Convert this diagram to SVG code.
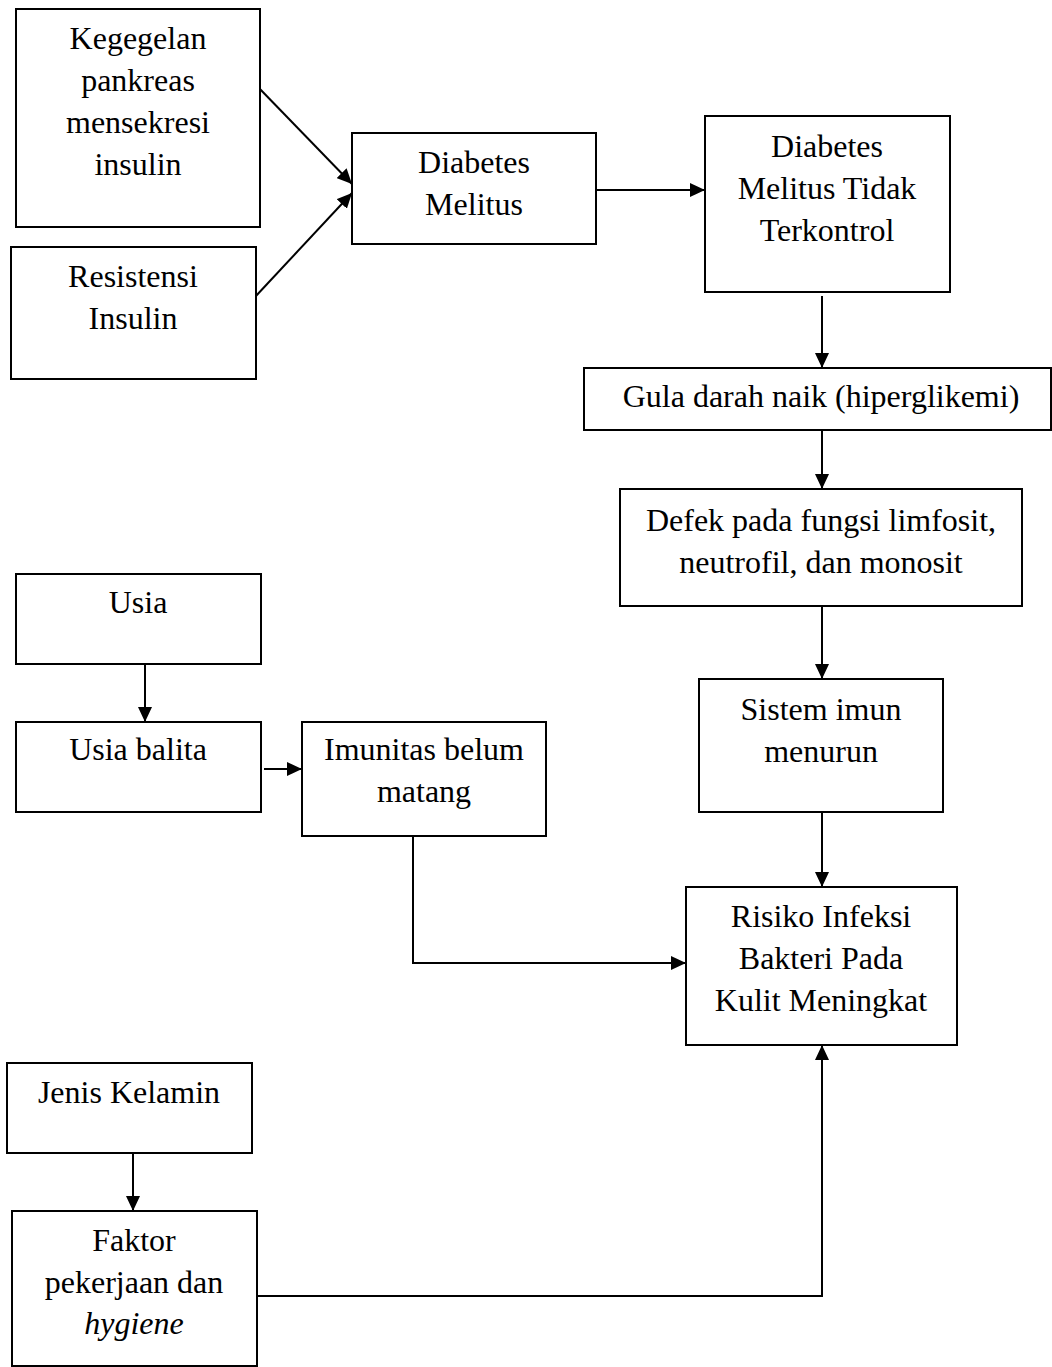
<svg xmlns="http://www.w3.org/2000/svg" width="1052" height="1367" viewBox="0 0 1052 1367">
<style>
.box{fill:#fff;stroke:#000;stroke-width:2}
.t{font-family:"Liberation Serif","Times New Roman",serif;font-size:32px;fill:#000;text-anchor:middle}
.c{fill:none;stroke:#000;stroke-width:2}
</style>
<defs>
<marker id="ah" markerUnits="userSpaceOnUse" markerWidth="16" markerHeight="14" refX="15" refY="7" orient="auto">
<path d="M0,0 L15,7 L0,14 z" fill="#000"/>
</marker>
</defs>
<rect width="1052" height="1367" fill="#fff"/>
<g id="connectors">
<line class="c" x1="258" y1="87" x2="352" y2="184" marker-end="url(#ah)"/>
<line class="c" x1="255" y1="297" x2="352" y2="193" marker-end="url(#ah)"/>
<line class="c" x1="596" y1="190" x2="705" y2="190" marker-end="url(#ah)"/>
<line class="c" x1="822" y1="296" x2="822" y2="368" marker-end="url(#ah)"/>
<line class="c" x1="822" y1="430" x2="822" y2="489" marker-end="url(#ah)"/>
<line class="c" x1="822" y1="606" x2="822" y2="679" marker-end="url(#ah)"/>
<line class="c" x1="822" y1="812" x2="822" y2="887" marker-end="url(#ah)"/>
<line class="c" x1="145" y1="664" x2="145" y2="722" marker-end="url(#ah)"/>
<line class="c" x1="264" y1="769" x2="302" y2="769" marker-end="url(#ah)"/>
<polyline class="c" points="413,836 413,963 686,963" marker-end="url(#ah)"/>
<line class="c" x1="133" y1="1153" x2="133" y2="1211" marker-end="url(#ah)"/>
<polyline class="c" points="257,1296 822,1296 822,1045" marker-end="url(#ah)"/>
</g>
<g id="n-kegegelan"><rect class="box" x="16" y="9" width="244" height="218"/>
<text class="t" x="138" y="49">Kegegelan</text><text class="t" x="138" y="91">pankreas</text><text class="t" x="138" y="133">mensekresi</text><text class="t" x="138" y="175">insulin</text></g>
<g id="n-resistensi"><rect class="box" x="11" y="247" width="245" height="132"/>
<text class="t" x="133" y="287">Resistensi</text><text class="t" x="133" y="329">Insulin</text></g>
<g id="n-dm"><rect class="box" x="352" y="133" width="244" height="111"/>
<text class="t" x="474" y="173">Diabetes</text><text class="t" x="474" y="215">Melitus</text></g>
<g id="n-dmtt"><rect class="box" x="705" y="116" width="245" height="176"/>
<text class="t" x="827" y="157">Diabetes</text><text class="t" x="827" y="199">Melitus Tidak</text><text class="t" x="827" y="241">Terkontrol</text></g>
<g id="n-gula"><rect class="box" x="584" y="368" width="467" height="62"/>
<text class="t" x="821" y="407">Gula darah naik (hiperglikemi)</text></g>
<g id="n-defek"><rect class="box" x="620" y="489" width="402" height="117"/>
<text class="t" x="821" y="531">Defek pada fungsi limfosit,</text><text class="t" x="821" y="573">neutrofil, dan monosit</text></g>
<g id="n-imun"><rect class="box" x="699" y="679" width="244" height="133"/>
<text class="t" x="821" y="720">Sistem imun</text><text class="t" x="821" y="762">menurun</text></g>
<g id="n-risiko"><rect class="box" x="686" y="887" width="271" height="158"/>
<text class="t" x="821" y="927">Risiko Infeksi</text><text class="t" x="821" y="969">Bakteri Pada</text><text class="t" x="821" y="1011">Kulit Meningkat</text></g>
<g id="n-usia"><rect class="box" x="16" y="574" width="245" height="90"/>
<text class="t" x="138" y="613">Usia</text></g>
<g id="n-balita"><rect class="box" x="16" y="722" width="245" height="90"/>
<text class="t" x="138" y="760">Usia balita</text></g>
<g id="n-imunitas"><rect class="box" x="302" y="722" width="244" height="114"/>
<text class="t" x="424" y="760">Imunitas belum</text><text class="t" x="424" y="802">matang</text></g>
<g id="n-jenis"><rect class="box" x="7" y="1063" width="245" height="90"/>
<text class="t" x="129" y="1103">Jenis Kelamin</text></g>
<g id="n-faktor"><rect class="box" x="12" y="1211" width="245" height="155"/>
<text class="t" x="134" y="1251">Faktor</text><text class="t" x="134" y="1293">pekerjaan dan</text><text class="t" x="134" y="1334" font-style="italic">hygiene</text></g>
</svg>
